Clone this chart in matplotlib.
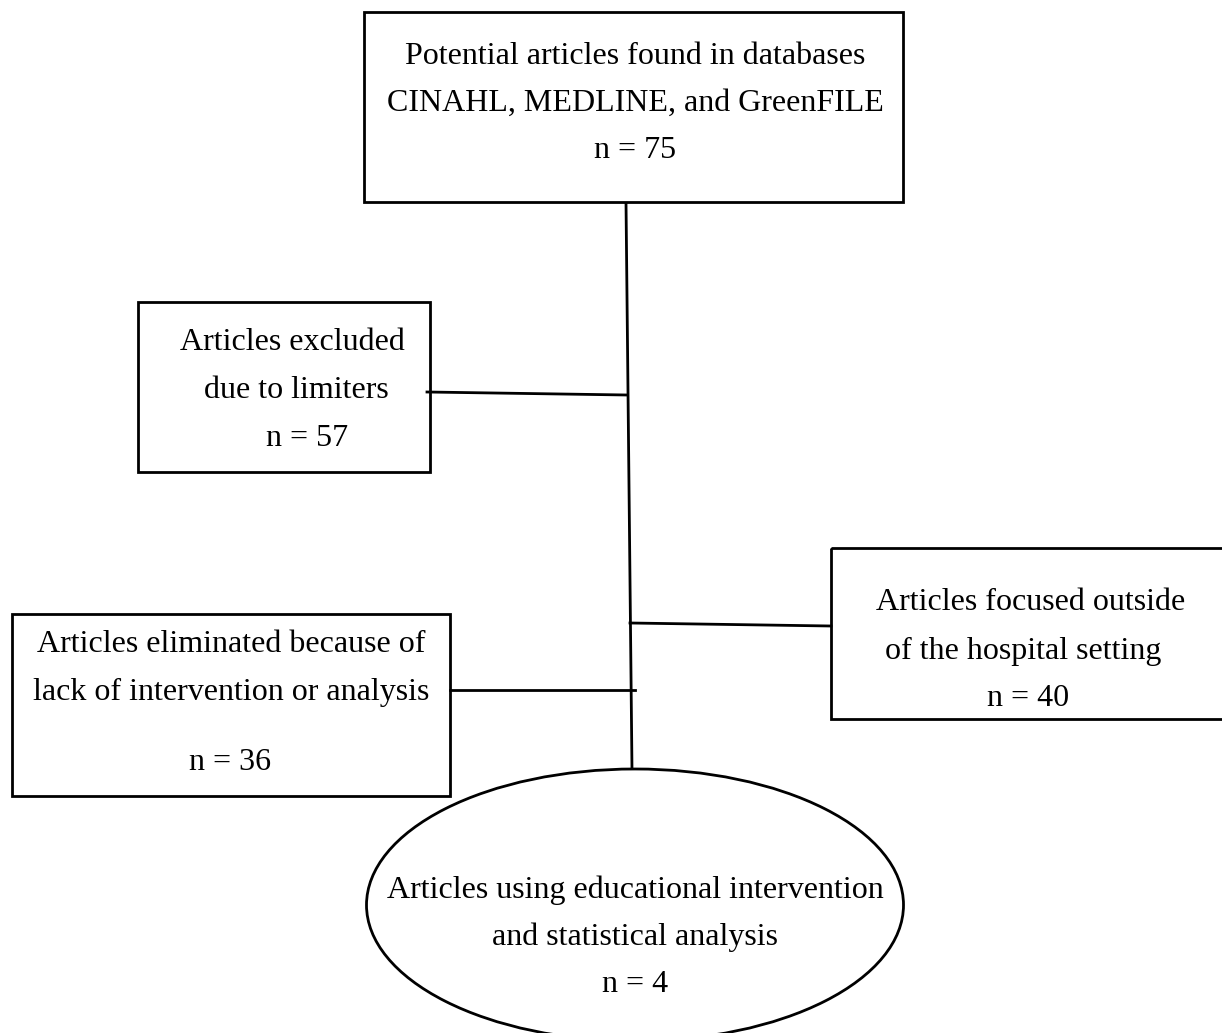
import matplotlib
matplotlib.use("Agg")
import matplotlib.pyplot as plt
from matplotlib.patches import Rectangle, Ellipse

W, H = 1222, 1033
fig = plt.figure(figsize=(W / 100, H / 100), dpi=100)
ax = fig.add_axes([0, 0, 1, 1])
ax.set_xlim(0, W)
ax.set_ylim(H, 0)
ax.axis("off")

FONT = "Liberation Serif"
FS = 23

# Box texts (content)
top_lines = ["Potential articles found in databases", "CINAHL, MEDLINE, and GreenFILE", "n = 75"]
limit_lines = ["Articles excluded", "due to limiters", "n = 57"]
outside_lines = ["Articles focused outside", "of the hospital setting", "n = 40"]
elim_lines = ["Articles eliminated because of", "lack of intervention or analysis", "n = 36"]
final_lines = ["Articles using educational intervention", "and statistical analysis", "n = 4"]

lw = 2.0

def box(x0, y0, x1, y1):
    ax.add_patch(Rectangle((x0, y0), x1 - x0, y1 - y0, fill=False, ec="black", lw=lw))

def txt(x, y, s, ha="center"):
    ax.text(x, y, s, ha=ha, va="center", fontsize=FS, family=FONT, color="black")

# Top box
box(364, 12, 903, 202)
for y, s in zip([56, 103, 151], top_lines):
    txt(635, y, s)

# Limiters box
box(138, 302, 430, 472)
txt(292, 343, limit_lines[0])
txt(296, 391, limit_lines[1])
txt(307, 438, limit_lines[2])

# Outside box
box(831, 548, 1224, 719)
txt(1031, 603, outside_lines[0])
txt(1023, 651, outside_lines[1])
txt(1028, 698, outside_lines[2])

# Eliminated box
box(12, 614, 450, 796)
txt(231, 645, elim_lines[0])
txt(231, 692, elim_lines[1])
txt(230, 762, elim_lines[2])

# Ellipse
ax.add_patch(Ellipse((635, 905), 537, 272, fill=False, ec="black", lw=lw))
for y, s in zip([890, 937, 985], final_lines):
    txt(635, y, s)

# Connectors
ax.plot([626, 632], [202, 770], color="black", lw=lw, solid_capstyle="butt")
ax.plot([427, 627], [392, 395], color="black", lw=lw)
ax.plot([630, 831], [623, 626], color="black", lw=lw)
ax.plot([450, 635], [690, 690], color="black", lw=lw)

fig.savefig("out.png", dpi=100)
